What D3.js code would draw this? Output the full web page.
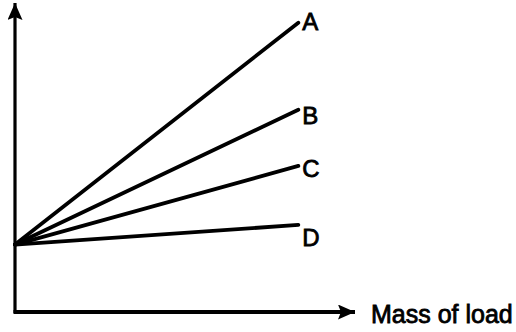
<!DOCTYPE html>
<html>
<head>
<meta charset="utf-8">
<script src="https://cdn.jsdelivr.net/npm/d3@7"></script>
<style>
  html, body { margin: 0; padding: 0; background: #fff; }
  svg text { font-family: "Liberation Sans", Arial, sans-serif; fill: #000; }
</style>
</head>
<body>
<svg id="chart" width="516" height="332"></svg>
<script>
// data (arbitrary units, no ticks on the original)
var seriesNames = ["A", "B", "C", "D"]
var loadRange = [0, 10]              // mass of load at line start / end
var startValues = [2.4, 2.4, 2.4, 2.4]
var endValues = [10.3, 7.2, 5.2, 3.1]
var xAxisLabel = "Mass of load"

var width = 516, height = 332
var origin = {x: 15, y: 312}
var xScale = d3.scaleLinear().domain([0, 12]).range([origin.x, 355])
var yScale = d3.scaleLinear().domain([0, 11]).range([origin.y, 3])

var svg = d3.select("#chart")

// arrow heads
var defs = svg.append("defs")
defs.append("marker")
    .attr("id", "arrow")
    .attr("viewBox", "0 0 17 15")
    .attr("refX", 17)
    .attr("refY", 7.5)
    .attr("markerWidth", 17)
    .attr("markerHeight", 15)
    .attr("markerUnits", "userSpaceOnUse")
    .attr("orient", "auto")
  .append("path")
    .attr("d", "M0,0 L17,7.5 L0,15 L3,7.5 Z")
    .attr("fill", "#000")

/* axes: plain lines with arrows, no ticks */
svg.append("line")
    .attr("x1", xScale(0)).attr("y1", yScale(0) + 1)
    .attr("x2", xScale(0)).attr("y2", yScale(11))
    .attr("stroke", "#000")
    .attr("stroke-width", 3.2)
    .attr("marker-end", "url(#arrow)")

svg.append("line")
    .attr("x1", xScale(0) - 1.5).attr("y1", yScale(0))
    .attr("x2", xScale(12)).attr("y2", yScale(0))
    .attr("stroke", "#000")
    .attr("stroke-width", 3.8)
    .attr("marker-end", "url(#arrow)")

svg.append("text")
    .attr("x", xScale(12) + 16)
    .attr("y", yScale(0) + 11)
    .attr("font-size", 25)
    .attr("stroke", "#000")
    .attr("stroke-width", 0.8)
    .text(xAxisLabel)

var lineData = seriesNames.map(function(name, i){
  return {name: name, start: startValues[i], end: endValues[i]}
})

svg.selectAll(".series")
    .data(lineData)
  .enter().append("line")
    .attr("class", "series")
    .attr("x1", xScale(loadRange[0]))
    .attr("y1", function(d){ return yScale(d.start) })
    .attr("x2", xScale(loadRange[1]))
    .attr("y2", function(d){ return yScale(d.end) })
    .attr("stroke", "#000")
    .attr("stroke-width", 3.8)
    .attr("stroke-linecap", "round")

// label nudges (vertical, px) so letters sit like the original
var labelNudge = {A: 7, B: 14, C: 11, D: 21}

svg.selectAll(".series-label")
    .data(lineData)
  .enter().append("text")
    .attr("class", "series-label")
    .attr("x", xScale(loadRange[1]) + 4)
    .attr("y", function(d){ return yScale(d.end) + labelNudge[d.name] })
    .attr("font-size", 24)
    .attr("stroke", "#000")
    .attr("stroke-width", 0.8)
    .text(function(d){ return d.name })
</script>
</body>
</html>
